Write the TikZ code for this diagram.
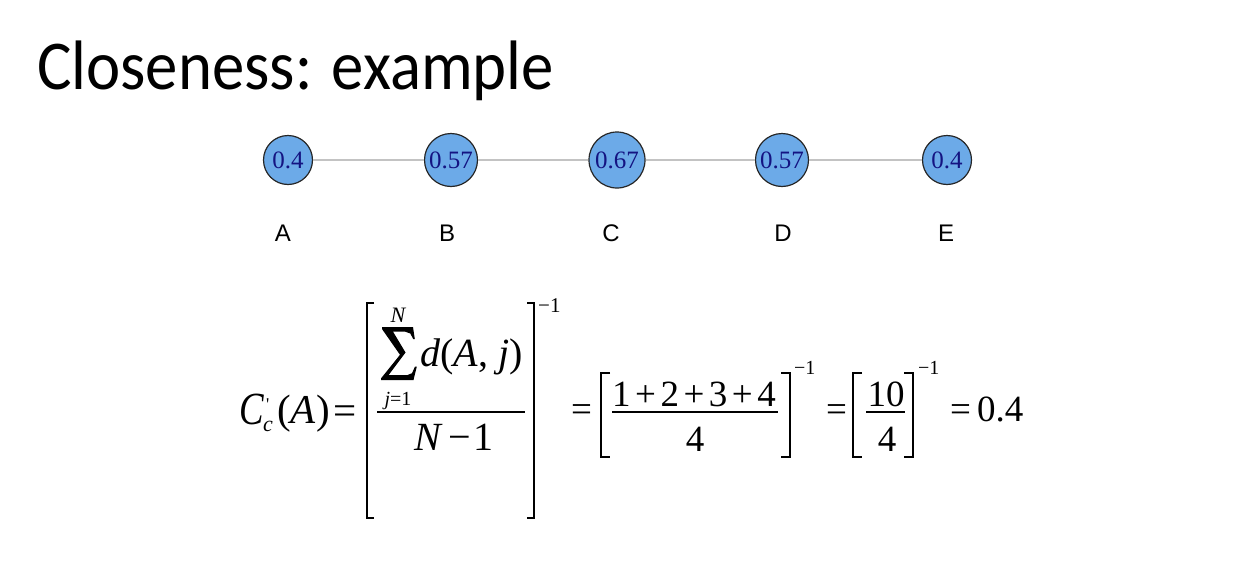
\documentclass[tikz,border=0pt]{standalone}
\usepackage{fontspec}
\usepackage{graphicx}
\setmainfont{Liberation Serif}
\newfontfamily\titlefont{Carlito}
\newfontfamily\labfont{Liberation Sans}
\newcommand{\fs}[1]{\fontsize{#1}{#1}\selectfont}
\definecolor{nodefill}{RGB}{108,170,232}
\definecolor{nodetext}{RGB}{20,20,130}
\definecolor{edgegray}{RGB}{195,195,195}
\begin{document}
\begin{tikzpicture}[x=1pt,y=-1pt,
  vert/.style={circle,draw=black!85,line width=1.2pt,fill=nodefill,text=nodetext,inner sep=0pt,font=\fs{25}},
  edge/.style={draw=edgegray,line width=2pt},
  lab/.style={font=\labfont\fs{24},anchor=base,inner sep=0pt},
  mt/.style={inner sep=0pt,anchor=base west},
  brk/.style={line width=2pt,line cap=butt}]
\useasboundingbox (0,0) rectangle (1237,568);
\node[anchor=base west,inner sep=0pt,font=\titlefont\fs{70}] (title) at (37,89) {\scalebox{0.925}[1]{Closeness: example}};
% graph
\node[vert,minimum size=49pt] (A) at (288,160) {0.4};
\node[vert,minimum size=53pt] (B) at (451,160) {0.57};
\node[vert,minimum size=56pt] (C) at (617,160) {0.67};
\node[vert,minimum size=53pt] (D) at (782,160) {0.57};
\node[vert,minimum size=49pt] (E) at (947,160) {0.4};
\draw[edge] (A) -- (B);
\draw[edge] (B) -- (C);
\draw[edge] (C) -- (D);
\draw[edge] (D) -- (E);
\node[lab] (lA) at (283,241) {A};
\node[lab] (lB) at (447,241) {B};
\node[lab] (lC) at (611,241) {C};
\node[lab] (lD) at (783,241) {D};
\node[lab] (lE) at (946,241) {E};
% left formula
\node[mt,font=\fs{46}\itshape] (Cc) at (239,424) {\scalebox{0.8}[1]{C}};
\node[mt,font=\fs{22}\itshape] (sub) at (263,431) {c};
\node[mt,font=\fs{18}] (prime) at (266,410) {\textquotesingle};
\node[mt,font=\fs{41}] (pA) at (277,423) {(\textit{A})};
\node[mt,font=\fs{41}] (eq1) at (333,424) {=};
\coordinate (L1a) at (374,303); \coordinate (L1b) at (367,303);
\coordinate (L1c) at (367,518); \coordinate (L1d) at (374,518);
\draw[brk] (L1a) -- (L1b) -- (L1c) -- (L1d);
\coordinate (R1a) at (527,303); \coordinate (R1b) at (534,303);
\coordinate (R1c) at (534,518); \coordinate (R1d) at (527,518);
\draw[brk] (R1a) -- (R1b) -- (R1c) -- (R1d);
\node[mt,font=\fs{21}] (sup1) at (538,312) {−1};
% summation sign
\fill (382,327) -- (413,327) -- (414.8,339) -- (413.2,339) -- (410.3,333.5) -- (405,331.6)
  -- (393,331.6) -- (405.5,352.5) -- (388.5,375.2) -- (407,375.2) -- (412,373.2)
  -- (415,366.5) -- (416.8,366.5) -- (413.5,380) -- (381,380) -- (381,378.4)
  -- (400,354.8) -- (382,329) -- cycle;
\node[inner sep=0pt,anchor=base,font=\fs{22}\itshape] (N1) at (398,322) {N};
\node[inner sep=0pt,anchor=base,font=\fs{20}] (j1) at (398,405) {\textit{j}=1};
\node[mt,font=\fs{40}] (dAj) at (420,366) {\textit{d}(\textit{A}, \textit{j})};
\coordinate (f1a) at (377,412); \coordinate (f1b) at (525,412);
\draw[line width=1.6pt] (f1a) -- (f1b);
\node[mt,font=\fs{40}] (Nm1) at (414,450) {\textit{N}\hspace{6pt}−\hspace{2pt}1};
% right formula
\node[mt,font=\fs{37}] (eq2) at (571,421) {=};
\coordinate (L2a) at (610,373); \coordinate (L2b) at (601,373);
\coordinate (L2c) at (601,457); \coordinate (L2d) at (610,457);
\draw[brk] (L2a) -- (L2b) -- (L2c) -- (L2d);
\node[mt,font=\fs{37}] (num2) at (612,406) {1\hspace{4.5pt}+\hspace{4.5pt}2\hspace{4.5pt}+\hspace{4.5pt}3\hspace{4.5pt}+\hspace{4.5pt}4};
\coordinate (f2a) at (612,412); \coordinate (f2b) at (778,412);
\draw[line width=1.6pt] (f2a) -- (f2b);
\node[inner sep=0pt,anchor=base,font=\fs{37}] (den2) at (695,451) {4};
\coordinate (R2a) at (781,373); \coordinate (R2b) at (790,373);
\coordinate (R2c) at (790,457); \coordinate (R2d) at (781,457);
\draw[brk] (R2a) -- (R2b) -- (R2c) -- (R2d);
\node[mt,font=\fs{20}] (sup2) at (794,374) {−1};
\node[mt,font=\fs{37}] (eq3) at (826,421) {=};
\coordinate (L3a) at (862,373); \coordinate (L3b) at (853,373);
\coordinate (L3c) at (853,457); \coordinate (L3d) at (862,457);
\draw[brk] (L3a) -- (L3b) -- (L3c) -- (L3d);
\node[inner sep=0pt,anchor=base,font=\fs{37}] (num3) at (886,406) {10};
\coordinate (f3a) at (866,412); \coordinate (f3b) at (905,412);
\draw[line width=1.6pt] (f3a) -- (f3b);
\node[inner sep=0pt,anchor=base,font=\fs{37}] (den3) at (887,451) {4};
\coordinate (R3a) at (904,373); \coordinate (R3b) at (913,373);
\coordinate (R3c) at (913,457); \coordinate (R3d) at (904,457);
\draw[brk] (R3a) -- (R3b) -- (R3c) -- (R3d);
\node[mt,font=\fs{20}] (sup3) at (918,374) {−1};
\node[mt,font=\fs{37}] (eq4) at (950,421) {=};
\node[mt,font=\fs{37}] (res) at (977,421) {0.4};
\end{tikzpicture}
\end{document}
